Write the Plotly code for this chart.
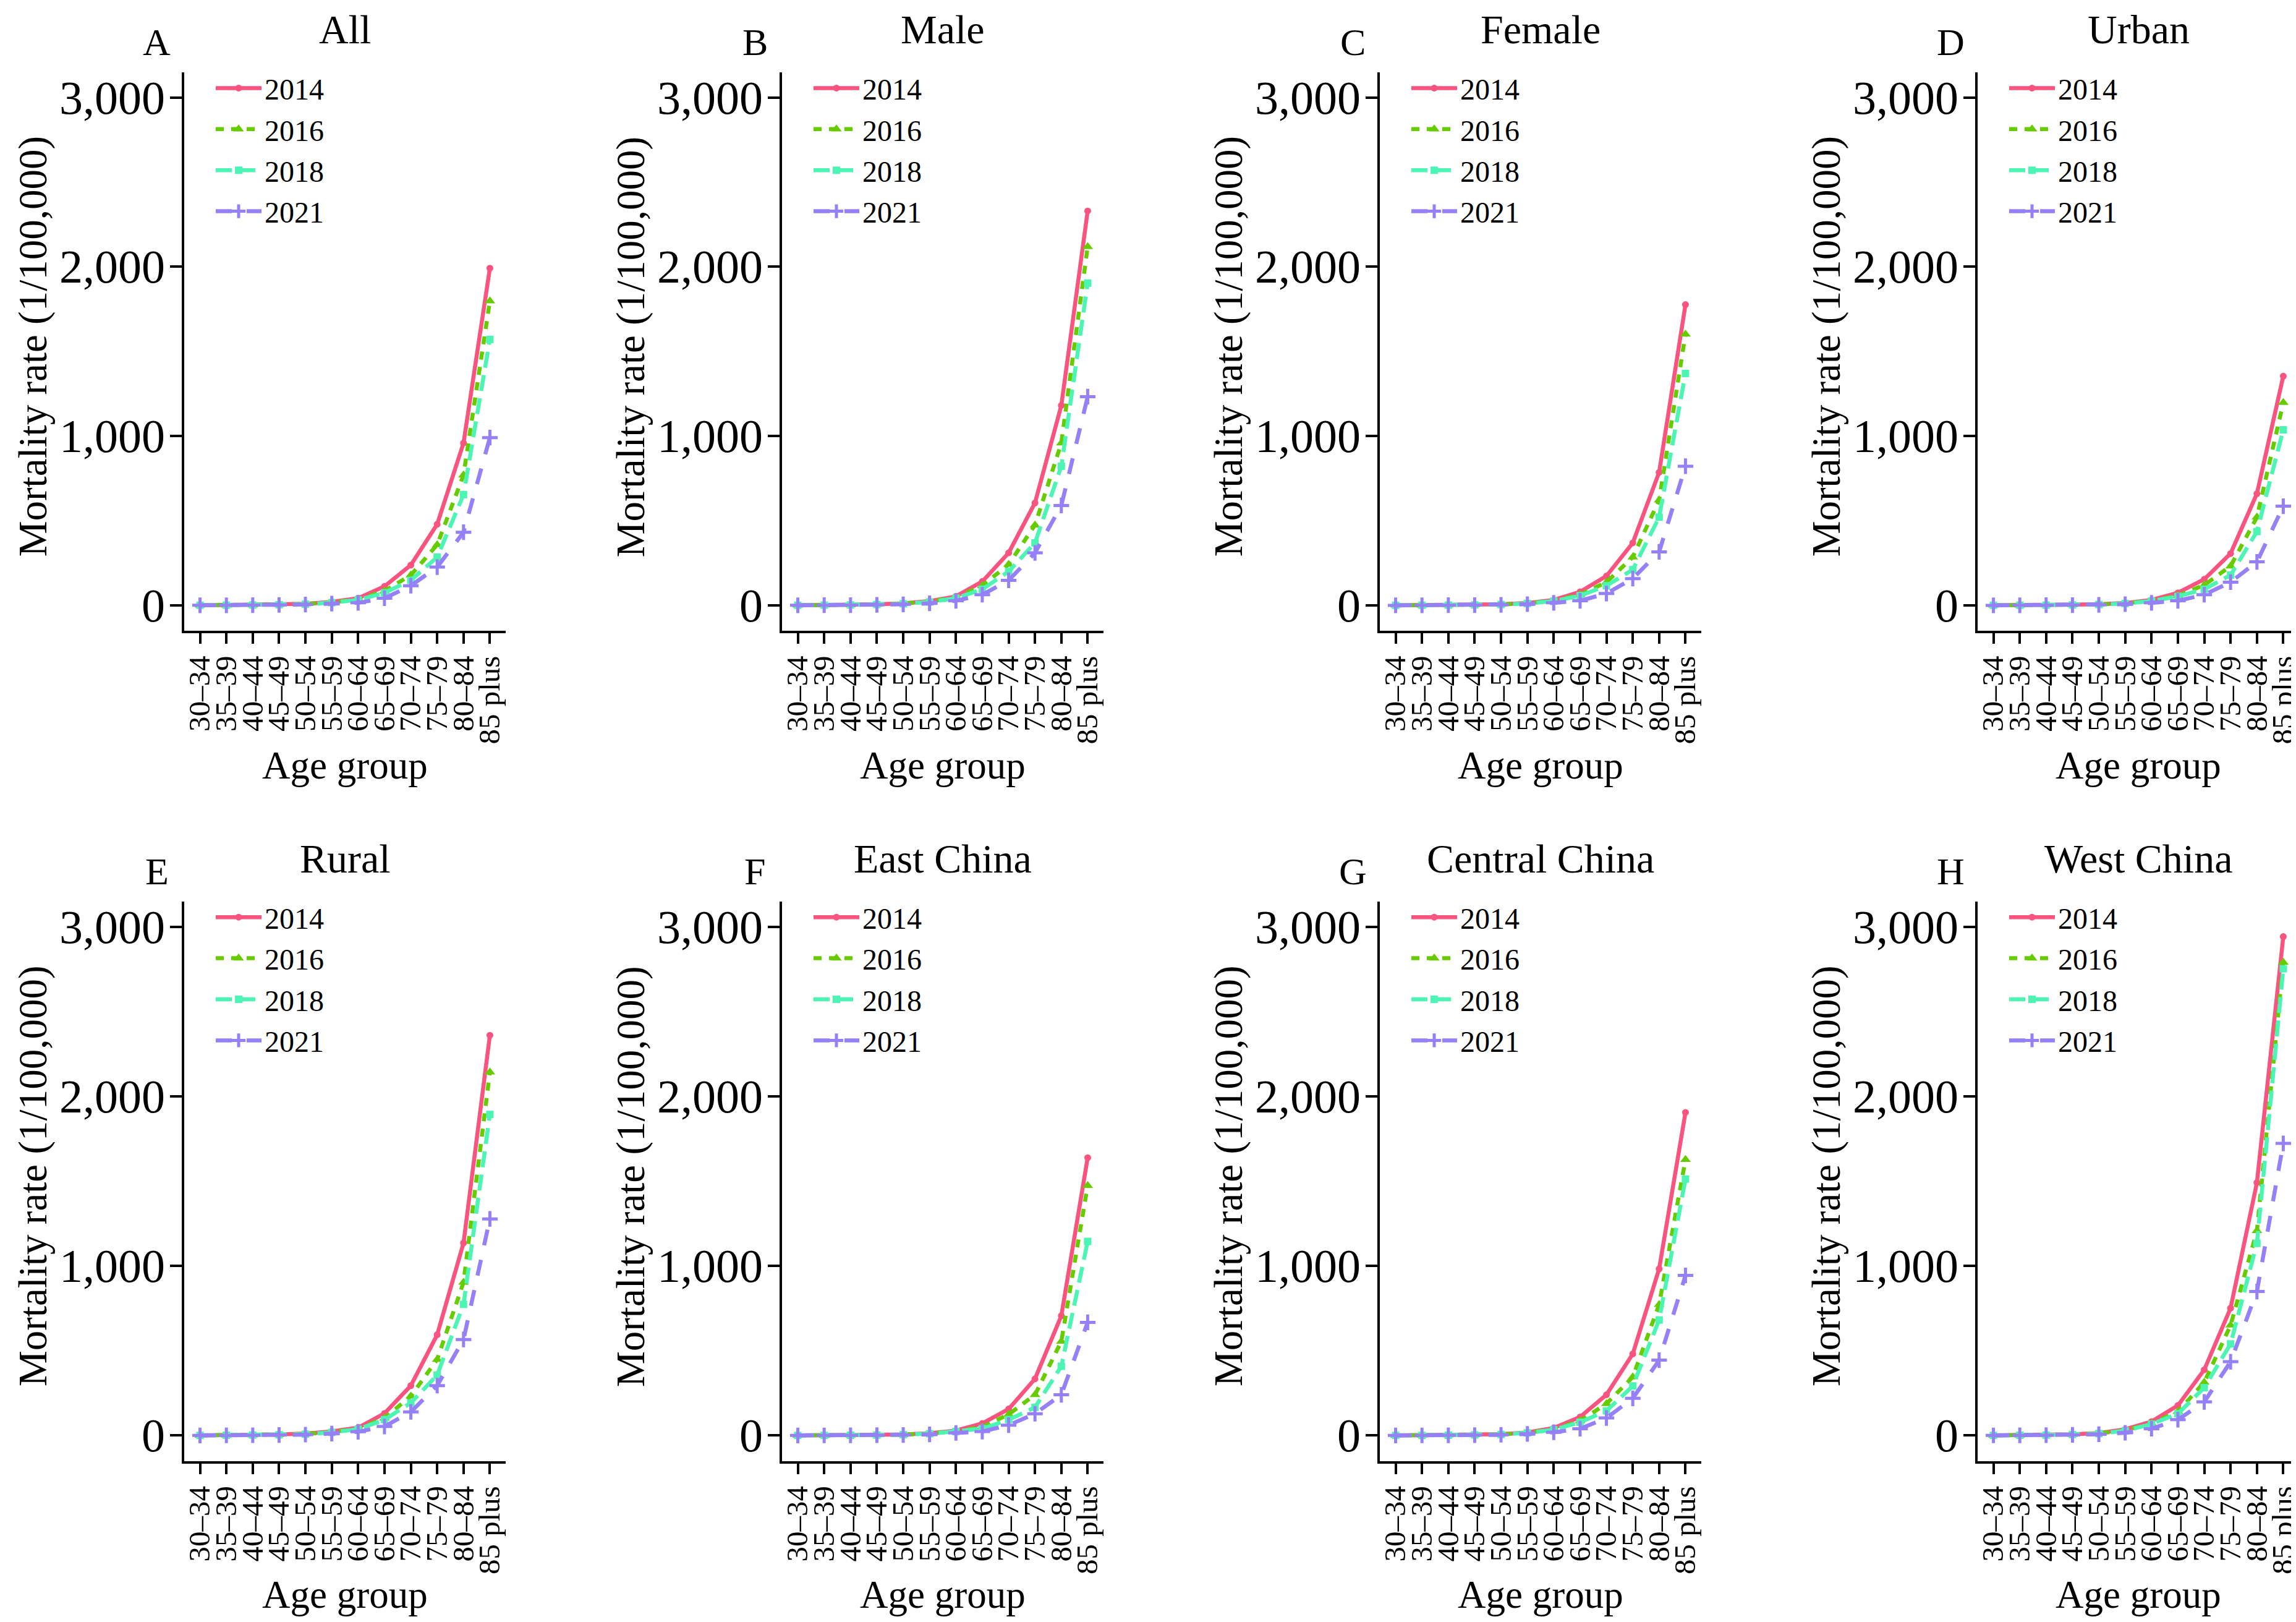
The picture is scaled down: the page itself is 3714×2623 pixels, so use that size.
import plotly.graph_objects as go

# ---------------- data ----------------
AGE_GROUPS = ["30–34", "35–39", "40–44", "45–49", "50–54", "55–59",
              "60–64", "65–69", "70–74", "75–79", "80–84", "85 plus"]
YEARS = ["2014", "2016", "2018", "2021"]
Y_TICKS = [0, 1000, 2000, 3000]

ALL_2014 = [0.6, 1.2, 2.5, 5, 9, 21, 42, 112, 238, 479, 959, 1992]
ALL_2016 = [0.5, 1.0, 2.0, 4, 8, 18, 36, 84, 179, 358, 770, 1798]
ALL_2018 = [0.5, 1.0, 2.0, 4, 7, 16, 32, 74, 148, 285, 654, 1571]
ALL_2021 = [0.3, 0.6, 1.2, 2.5, 5, 10, 15, 42, 116, 226, 432, 991]

MALE_2014 = [0.8, 1.5, 3, 6, 12, 25, 53, 141, 310, 605, 1181, 2330]
MALE_2016 = [0.7, 1.3, 2.6, 5, 10, 22, 48, 116, 242, 474, 959, 2119]
MALE_2018 = [0.6, 1.2, 2.4, 5, 9, 20, 42, 95, 200, 369, 822, 1904]
MALE_2021 = [0.4, 0.8, 1.5, 3, 6, 12, 27, 63, 148, 310, 590, 1233]

FEMALE_2014 = [0.4, 0.8, 1.6, 3, 6, 14, 32, 80, 173, 369, 786, 1777]
FEMALE_2016 = [0.3, 0.7, 1.4, 3, 5, 12, 27, 63, 137, 285, 622, 1602]
FEMALE_2018 = [0.3, 0.6, 1.3, 2.5, 5, 11, 25, 57, 116, 211, 521, 1370]
FEMALE_2021 = [0.2, 0.4, 0.8, 1.5, 3, 7, 15, 27, 70, 158, 316, 822]

URBAN_2014 = [0.4, 0.8, 1.6, 3, 6, 14, 32, 74, 154, 306, 660, 1354]
URBAN_2016 = [0.3, 0.7, 1.4, 3, 5, 12, 27, 57, 120, 232, 521, 1198]
URBAN_2018 = [0.3, 0.6, 1.3, 2.5, 5, 11, 25, 53, 95, 179, 436, 1037]
URBAN_2021 = [0.2, 0.4, 0.8, 1.5, 3, 7, 15, 27, 63, 137, 257, 586]

RURAL_2014 = [0.7, 1.4, 2.8, 5.5, 11, 24, 46, 130, 294, 594, 1135, 2360]
RURAL_2016 = [0.6, 1.2, 2.4, 5, 9, 20, 40, 102, 232, 448, 903, 2143]
RURAL_2018 = [0.5, 1.1, 2.2, 4.5, 8, 18, 37, 93, 192, 356, 773, 1893]
RURAL_2021 = [0.3, 0.7, 1.4, 3, 5, 11, 22, 53, 139, 294, 566, 1277]

EAST_2014 = [0.4, 0.8, 1.6, 3, 6, 13, 29, 71, 156, 334, 706, 1638]
EAST_2016 = [0.3, 0.7, 1.4, 3, 5, 11, 25, 50, 124, 240, 555, 1474]
EAST_2018 = [0.3, 0.6, 1.3, 2.5, 5, 10, 23, 40, 93, 166, 408, 1144]
EAST_2021 = [0.2, 0.4, 0.8, 1.5, 3, 6, 15, 23, 61, 128, 240, 667]

CENTRAL_2014 = [0.5, 1.0, 2.0, 4, 8, 18, 44, 109, 240, 481, 982, 1905]
CENTRAL_2016 = [0.4, 0.9, 1.8, 3.5, 7, 16, 36, 86, 187, 345, 772, 1627]
CENTRAL_2018 = [0.4, 0.8, 1.6, 3, 6, 15, 34, 78, 145, 292, 681, 1512]
CENTRAL_2021 = [0.3, 0.5, 1.0, 2, 4, 9, 19, 40, 103, 219, 444, 944]

WEST_2014 = [0.8, 1.6, 3.2, 7, 14, 36, 82, 177, 387, 751, 1491, 2942]
WEST_2016 = [0.7, 1.4, 2.8, 6, 12, 30, 71, 141, 313, 650, 1207, 2790]
WEST_2018 = [0.7, 1.3, 2.6, 5.5, 11, 28, 67, 128, 282, 540, 1133, 2752]
WEST_2021 = [0.4, 0.8, 1.6, 3.5, 7, 16, 40, 93, 198, 435, 849, 1722]

PANEL_LETTERS = ["A", "B", "C", "D", "E", "F", "G", "H"]
PANEL_TITLES = ["All", "Male", "Female", "Urban", "Rural",
                "East China", "Central China", "West China"]
PANEL_SERIES = [
    [ALL_2014, ALL_2016, ALL_2018, ALL_2021],
    [MALE_2014, MALE_2016, MALE_2018, MALE_2021],
    [FEMALE_2014, FEMALE_2016, FEMALE_2018, FEMALE_2021],
    [URBAN_2014, URBAN_2016, URBAN_2018, URBAN_2021],
    [RURAL_2014, RURAL_2016, RURAL_2018, RURAL_2021],
    [EAST_2014, EAST_2016, EAST_2018, EAST_2021],
    [CENTRAL_2014, CENTRAL_2016, CENTRAL_2018, CENTRAL_2021],
    [WEST_2014, WEST_2016, WEST_2018, WEST_2021],
]

# ---------------- styles ----------------
COLORS = ["#F8547F", "#66CC00", "#4DF5B4", "#9580F8"]
DASHES = ["solid", "13px,12px", "26px,12px", "26px,24px"]
SYMBOLS = ["circle", "triangle-up", "square", "cross-thin"]
MSIZES = [11, 15, 12, 18]
FONT = "Liberation Serif, Times New Roman, serif"

W, H = 3714, 2623
COL_X0 = [290, 1257, 2224, 3191]
PW = 520
ROW_TOP = [108.7, 1449.5]
ROW_BOT = [1012.0, 2354.5]


def px_x(v):
    return v / W


def px_y(v):
    return 1 - v / H


fig = go.Figure()
annotations = []
layout = {}

for p in range(8):
    r, c = divmod(p, 4)
    ax = "" if p == 0 else str(p + 1)
    xa, ya = "x" + ax, "y" + ax
    leg = "legend" if p == 0 else "legend" + str(p + 1)
    x0 = COL_X0[c]
    x1 = x0 + PW
    top, bot = ROW_TOP[r], ROW_BOT[r]

    for k, yr in enumerate(YEARS):
        fig.add_trace(go.Scatter(
            x=AGE_GROUPS, y=PANEL_SERIES[p][k], name=yr, mode="lines+markers",
            xaxis=xa, yaxis=ya, legend=leg, showlegend=True,
            legendgroup=f"{p}-{yr}",
            line=dict(color=COLORS[k], width=6.5, dash=DASHES[k]),
            marker=dict(symbol=SYMBOLS[k], size=MSIZES[k], color=COLORS[k],
                        line=dict(color=COLORS[k], width=5 if SYMBOLS[k] == "cross-thin" else 0)),
        ))

    layout["xaxis" + ax] = dict(
        domain=[px_x(x0), px_x(x1)], anchor=ya, type="category",
        categoryorder="array", categoryarray=AGE_GROUPS,
        tickmode="array", tickvals=AGE_GROUPS, ticktext=AGE_GROUPS,
        range=[-0.6, 11.6], showgrid=False, zeroline=False,
        showline=True, linecolor="black", linewidth=4,
        ticks="outside", ticklen=17, tickwidth=4, tickcolor="black",
        tickangle=-90, tickfont=dict(family=FONT, size=49, color="black"),
        automargin=False, fixedrange=True,
    )
    layout["yaxis" + ax] = dict(
        domain=[px_y(bot), px_y(top)], anchor=xa,
        range=[-150, 3150], tickvals=Y_TICKS, showticklabels=False,
        showgrid=False, zeroline=False,
        showline=True, linecolor="black", linewidth=4,
        ticks="outside", ticklen=19, tickwidth=4, tickcolor="black",
        automargin=False, fixedrange=True,
    )
    layout[leg] = dict(
        x=px_x(x0 + 46), y=px_y(top - 12), xanchor="left", yanchor="top",
        bgcolor="rgba(0,0,0,0)", borderwidth=0, itemwidth=74,
        tracegroupgap=1,
        font=dict(family=FONT, size=48, color="black"),
    )

    # y tick labels, placed on the axis scale
    for v in Y_TICKS:
        annotations.append(dict(text=f"{v:,}", x=px_x(x0 - 29), xref="paper",
                                y=v, yref=ya, showarrow=False,
                                xanchor="right", yanchor="middle",
                                font=dict(family=FONT, size=76, color="black")))

    cx = x0 + PW / 2
    off = r * 1341
    annotations.append(dict(text=PANEL_TITLES[p], x=px_x(cx), y=px_y(39 + off),
                            xref="paper", yref="paper", showarrow=False,
                            xanchor="center", yanchor="middle",
                            font=dict(family=FONT, size=66, color="black")))
    annotations.append(dict(text=PANEL_LETTERS[p], x=px_x(x0 - 44), y=px_y(60 + off),
                            xref="paper", yref="paper", showarrow=False,
                            xanchor="center", yanchor="middle",
                            font=dict(family=FONT, size=62, color="black")))
    annotations.append(dict(text="Age group", x=px_x(cx), y=px_y(1230 + off),
                            xref="paper", yref="paper", showarrow=False,
                            xanchor="center", yanchor="middle",
                            font=dict(family=FONT, size=63, color="black")))
    annotations.append(dict(text="Mortality rate (1/100,000)", x=px_x(x0 - 245),
                            y=px_y((top + bot) / 2 - 8), textangle=-90,
                            xref="paper", yref="paper", showarrow=False,
                            xanchor="center", yanchor="middle",
                            font=dict(family=FONT, size=65, color="black")))

fig.update_layout(
    width=W, height=H, template="none",
    margin=dict(l=0, r=0, t=0, b=0, pad=0),
    paper_bgcolor="white", plot_bgcolor="white",
    font=dict(family=FONT, color="black"),
    annotations=annotations, **layout,
)

fig.write_html("out.html")
